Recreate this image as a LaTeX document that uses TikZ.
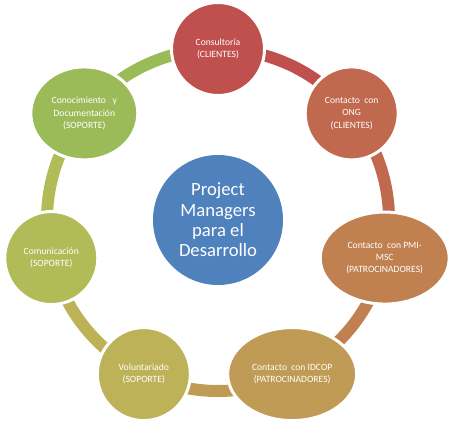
\documentclass[tikz,border=0pt]{standalone}
\usepackage{fontspec}
\setmainfont{Carlito}
\usetikzlibrary{shapes.geometric, backgrounds}
\definecolor{hubblue}{RGB}{79,129,189}
\definecolor{consulred}{RGB}{192,80,77}
\definecolor{ongbrown}{RGB}{193,105,78}
\definecolor{pmitan}{RGB}{192,128,80}
\definecolor{idcopgold}{RGB}{192,155,85}
\definecolor{vololive}{RGB}{190,178,88}
\definecolor{comolive}{RGB}{177,187,88}
\definecolor{conogreen}{RGB}{155,187,89}

\begin{document}
\begin{tikzpicture}[
    x=0.75pt, y=0.75pt,
    hub/.style={circle, fill=hubblue, text=white, minimum size=97.5pt, inner sep=0pt, align=center, font=\fontsize{14}{15.2}\selectfont},
    area/.style={draw=white, line width=2.25pt, inner sep=0pt, text=white, align=center, font=\fontsize{7.2}{9.2}\selectfont},
    ball/.style={area, circle, minimum size=69.75pt},
    oval/.style={area, ellipse, minimum height=69.75pt},
    ring/.style={line width=9pt, bend left=25.71, looseness=0.9}
]
\useasboundingbox (-218,-204) rectangle (238,220);

% Centre
\node[hub] (hub) at (0,0) {Project\\Managers\\para el\\Desarrollo};

% Cycle members
\node[ball, fill=consulred] (consul) at (90:171) {Consultoría\\(CLIENTES)};
\node[ball, fill=ongbrown] (ong) at (38.57:171) {Contacto\ \ con\\ONG\\(CLIENTES)};
\node[oval, fill=pmitan, minimum width=96.75pt, minimum height=69pt] (pmi) at (-12.86:171) {Contacto\ \ con PMI-\\MSC\\(PATROCINADORES)};
\node[oval, fill=idcopgold, minimum width=96.75pt] (idcop) at (-64.29:171) {Contacto\ \ con IDCOP\\(PATROCINADORES)};
\node[ball, fill=vololive] (vol) at (-115.71:171) {Voluntariado\\(SOPORTE)};
\node[ball, fill=comolive] (com) at (-167.14:171) {Comunicación\\(SOPORTE)};
\node[oval, fill=conogreen, minimum width=80.25pt] (cono) at (141.43:171) {Conocimiento\ \ \ y\\Documentación\\(SOPORTE)};

% Ring segments
\begin{pgfonlayer}{background}
\draw[ring, consulred] (consul.center) to (ong.center);
\draw[ring, ongbrown] (ong.center) to (pmi.center);
\draw[ring, pmitan] (pmi.center) to (idcop.center);
\draw[ring, idcopgold] (idcop.center) to (vol.center);
\draw[ring, vololive] (vol.center) to (com.center);
\draw[ring, comolive] (com.center) to (cono.center);
\draw[ring, conogreen] (cono.center) to (consul.center);
\end{pgfonlayer}

\end{tikzpicture}
\end{document}
